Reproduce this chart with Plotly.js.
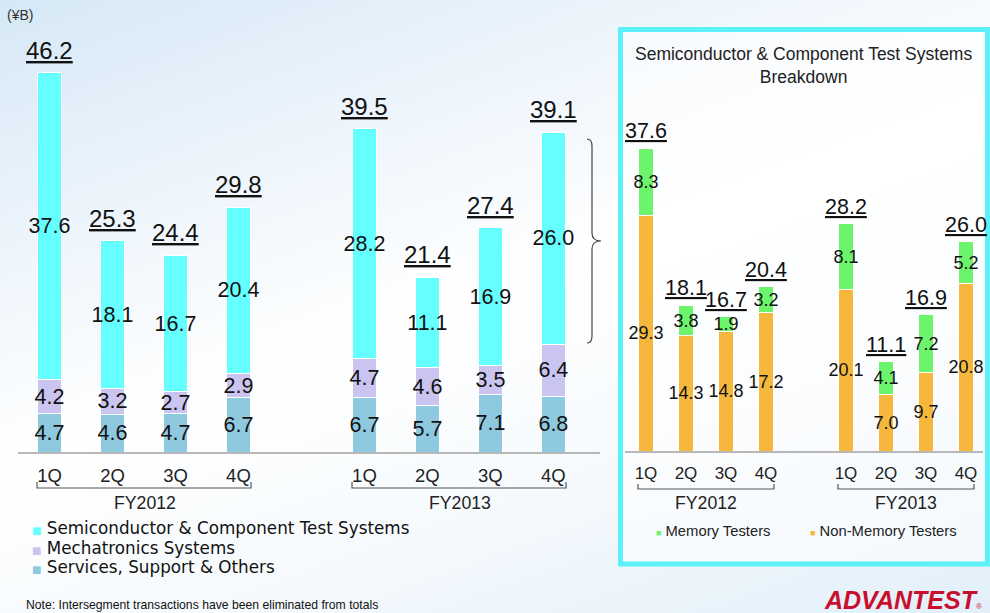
<!DOCTYPE html>
<html><head><meta charset="utf-8">
<script src="https://cdn.plot.ly/plotly-3.0.1.min.js"></script>
<style>
html,body{margin:0;padding:0;}
body{width:990px;height:613px;overflow:hidden;
background:linear-gradient(160deg,#d6e8f6 0%,#eaf3fb 22%,#ffffff 48%,#f6fafd 70%,#e2eff9 100%);}
#chart{width:990px;height:613px;}
</style></head><body><div id="chart"></div>
<script>
// ---- data ----
const quarters = ['1Q','2Q','3Q','4Q','1Q','2Q','3Q','4Q'];
const years = ['FY2012','FY2012','FY2012','FY2012','FY2013','FY2013','FY2013','FY2013'];
const fiscalYears = ['FY2012','FY2013'];
const segmentNames = ['Semiconductor & Component Test Systems','Mechatronics Systems','Services, Support & Others'];
const semiconductor = [37.6, 18.1, 16.7, 20.4, 28.2, 11.1, 16.9, 26.0];
const mechatronics = [4.2, 3.2, 2.7, 2.9, 4.7, 4.6, 3.5, 6.4];
const services = [4.7, 4.6, 4.7, 6.7, 6.7, 5.7, 7.1, 6.8];
const totals = [46.2, 25.3, 24.4, 29.8, 39.5, 21.4, 27.4, 39.1];
const breakdownNames = ['Memory Testers','Non-Memory Testers'];
const memory = [8.3, 3.8, 1.9, 3.2, 8.1, 4.1, 7.2, 5.2];
const nonMemory = [29.3, 14.3, 14.8, 17.2, 20.1, 7.0, 9.7, 20.8];

// ---- styles ----
const FONT = 'Liberation Sans, Arial, sans-serif';
const LFONT = 'DejaVu Sans, sans-serif';
const C_SEMI = '#66FFFF', C_MECHA = '#CAC5F0', C_SERV = '#8FC9DF';
const C_MEM = '#6CF46C', C_NONMEM = '#F5B83D';
const PX = x => x / 990;
const PY = y => 1 - y / 613;

const cats = quarters.map((q, i) => years[i] + ' ' + q);
const catArray = cats.slice(0, 4).concat(['gap'], cats.slice(4));

function barTrace(vals, color, xa, ya, size) {
  return {
    type: 'bar', x: cats, y: vals, xaxis: xa, yaxis: ya,
    width: xa === 'x' ? 0.38 : 0.36,
    marker: {color: color, line: {color: '#ffffff', width: 1}},
    texttemplate: '%{y:.1f}', textposition: 'inside', insidetextanchor: 'middle',
    constraintext: 'none', textangle: 0, cliponaxis: false,
    insidetextfont: {family: FONT, size: size, color: '#111'},
    hoverinfo: 'skip', showlegend: false
  };
}

const data = [
  barTrace(services, C_SERV, 'x', 'y', 21.5),
  barTrace(mechatronics, C_MECHA, 'x', 'y', 21.5),
  barTrace(semiconductor, C_SEMI, 'x', 'y', 21.5),
  barTrace(nonMemory, C_NONMEM, 'x2', 'y2', 18),
  barTrace(memory, C_MEM, 'x2', 'y2', 18)
];

const annotations = [];
// totals above stacks
cats.forEach((c, i) => {
  annotations.push({xref: 'x', yref: 'y', x: c, y: semiconductor[i] + mechatronics[i] + services[i],
    yanchor: 'bottom', yshift: 7, showarrow: false,
    text: '<u>' + totals[i].toFixed(1) + '</u>', font: {family: FONT, size: 24, color: '#111'}});
  annotations.push({xref: 'x2', yref: 'y2', x: c, y: memory[i] + nonMemory[i],
    yanchor: 'bottom', yshift: 3, showarrow: false,
    text: '<u>' + (memory[i] + nonMemory[i]).toFixed(1) + '</u>', font: {family: FONT, size: 21.5, color: '#111'}});
});
// fiscal year labels
[[144.5, 459.5], [706, 906]].forEach((xs) => {
  xs.forEach((x, k) => annotations.push({xref: 'paper', yref: 'paper', x: PX(x), y: PY(503),
    xanchor: 'center', yanchor: 'middle', showarrow: false, text: fiscalYears[k],
    font: {family: FONT, size: 17.7, color: '#222'}}));
});
// left legend
const segColors = [C_SEMI, C_MECHA, C_SERV];
[528, 547.7, 567.4].forEach((y, i) => annotations.push({xref: 'paper', yref: 'paper', x: PX(31), y: PY(y),
  xanchor: 'left', yanchor: 'middle', showarrow: false, borderpad: 0,
  text: '<span style="color:' + segColors[i] + ';font-size:10px">■</span> ' + segmentNames[i],
  font: {family: LFONT, size: 16.8, color: '#111'}}));
// right legend
[[654, C_MEM], [808, C_NONMEM]].forEach((d, i) => annotations.push({xref: 'paper', yref: 'paper', x: PX(d[0]), y: PY(531),
  xanchor: 'left', yanchor: 'middle', showarrow: false,
  text: '<span style="color:' + d[1] + ';font-size:9px">■</span> ' + breakdownNames[i],
  font: {family: FONT, size: 14.8, color: '#222'}}));
// panel title
annotations.push({xref: 'paper', yref: 'paper', x: PX(803), y: PY(65), xanchor: 'center', yanchor: 'middle',
  showarrow: false, text: segmentNames[0] + '<br>Breakdown', font: {family: FONT, size: 17.5, color: '#222'}});
// unit, note, logo
annotations.push({xref: 'paper', yref: 'paper', x: PX(5), y: PY(15), xanchor: 'left', yanchor: 'middle',
  showarrow: false, text: '(¥B)', font: {family: FONT, size: 14, color: '#333'}});
annotations.push({xref: 'paper', yref: 'paper', x: PX(24), y: PY(605), xanchor: 'left', yanchor: 'middle',
  showarrow: false, text: 'Note: Intersegment transactions have been eliminated from totals',
  font: {family: FONT, size: 12.2, color: '#111'}});
annotations.push({xref: 'paper', yref: 'paper', x: PX(984), y: PY(600), xanchor: 'right', yanchor: 'middle',
  showarrow: false, text: '<b><i>ADVANTEST</i></b><span style="font-size:8px">®</span>',
  font: {family: FONT, size: 25, color: '#C8102E'}});

// decorations
function bracket(x0, x1, yb, yt) {
  return {type: 'path', xref: 'paper', yref: 'paper', line: {color: '#555', width: 1.2},
    path: `M${PX(x0)},${PY(yt)} L${PX(x0)},${PY(yb)} L${PX(x1)},${PY(yb)} L${PX(x1)},${PY(yt)}`};
}
const brace = [[587,139],[592,139],[592,146],[592,233],[592,241],[601,241],[592,241],[592,249],[592,336],[592,343],[587,343]]
  .map(p => [PX(p[0]), PY(p[1])]);
const bracePath = `M${brace[0]} Q${brace[1]} ${brace[2]} L${brace[3]} Q${brace[4]} ${brace[5]} Q${brace[6]} ${brace[7]} L${brace[8]} Q${brace[9]} ${brace[10]}`;
const shapes = [
  {type: 'rect', xref: 'paper', yref: 'paper', x0: PX(620.5), x1: PX(987.5), y0: PY(564), y1: PY(29.5),
    line: {color: '#5CF0F8', width: 5}, fillcolor: 'rgba(255,255,255,0.55)', layer: 'below'},
  bracket(37, 251, 488, 482), bracket(352, 566, 488, 482),
  bracket(638, 774, 489, 484), bracket(838, 974, 489, 484),
  {type: 'path', xref: 'paper', yref: 'paper', path: bracePath, line: {color: '#444', width: 1.2}}
];

const xCommon = {type: 'category', categoryarray: catArray, categoryorder: 'array',
  tickvals: cats, ticktext: quarters, ticks: '', showgrid: false, zeroline: false,
  showline: true, linecolor: '#b8b8b8', linewidth: 2, ticklabelstandoff: 6, fixedrange: true};

const layout = {
  width: 990, height: 613, margin: {l: 0, r: 0, t: 0, b: 0},
  paper_bgcolor: 'rgba(0,0,0,0)', plot_bgcolor: 'rgba(0,0,0,0)',
  barmode: 'stack', showlegend: false, font: {family: FONT},
  xaxis: Object.assign({}, xCommon, {domain: [PX(18), PX(600)], range: [-0.5, 8.74], anchor: 'y',
    tickfont: {family: FONT, size: 18.5, color: '#222'}}),
  yaxis: {domain: [PY(452), PY(40)], range: [0, 50.5], visible: false, fixedrange: true},
  xaxis2: Object.assign({}, xCommon, {domain: [PX(625), PX(983)], range: [-0.525, 8.425], anchor: 'y2',
    tickfont: {family: FONT, size: 17, color: '#222'}}),
  yaxis2: {domain: [PY(451), PY(100)], range: [0, 43.6], visible: false, fixedrange: true, anchor: 'x2'},
  annotations: annotations, shapes: shapes
};

Plotly.newPlot('chart', data, layout, {staticPlot: true, displayModeBar: false});
</script></body></html>
